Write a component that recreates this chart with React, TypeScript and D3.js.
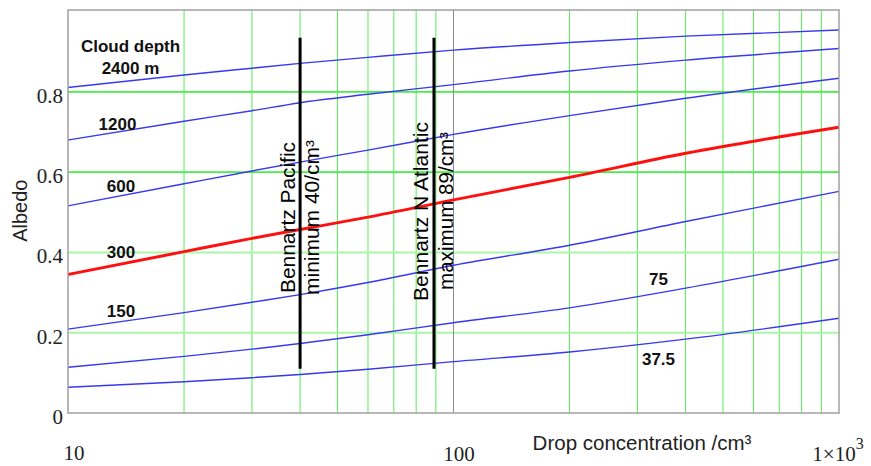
import React from "react"
import * as d3 from "d3"

// drop concentration samples (per cm3)
const conc = [10, 20, 30, 40, 60, 100, 200, 400, 1000]

// albedo per cloud depth
const depth2400 = [0.811, 0.842, 0.859, 0.871, 0.886, 0.904, 0.923, 0.939, 0.954]
const depth1200 = [0.68, 0.727, 0.753, 0.773, 0.794, 0.818, 0.852, 0.879, 0.908]
const depth600 = [0.516, 0.571, 0.603, 0.625, 0.655, 0.694, 0.741, 0.784, 0.834]
const depth300 = [0.345, 0.402, 0.435, 0.457, 0.488, 0.531, 0.587, 0.647, 0.712]
const depth150 = [0.209, 0.25, 0.276, 0.295, 0.325, 0.368, 0.418, 0.477, 0.552]
const depth75 = [0.114, 0.141, 0.159, 0.173, 0.195, 0.225, 0.262, 0.311, 0.383]
const depth37 = [0.064, 0.078, 0.088, 0.096, 0.109, 0.128, 0.152, 0.184, 0.236]

const blueSeries = [depth2400, depth1200, depth600, depth150, depth75, depth37]

const yTicks = [0, 0.2, 0.4, 0.6, 0.8]
const yTickLabels = ["0", "0.2", "0.4", "0.6", "0.8"]

// Bennartz markers
const pacificConc = 40
const atlanticConc = 89
const markerRange = [0.11, 0.935]

const sans = "'Liberation Sans', Arial, sans-serif"
const serif = "'Liberation Serif', 'Times New Roman', serif"

export default function App() {
  const x = d3.scaleLog().domain([10, 1000]).range([68, 839])
  const y = d3.scaleLinear().domain([0, 1.004]).range([413, 10])

  const line = d3
    .line<number>()
    .x((d, i) => x(conc[i]))
    .y((d) => y(d))
    .curve(d3.curveMonotoneX)

  const minor = x.ticks().filter((t) => t !== 10 && t !== 100 && t !== 1000)
  const [x0, x1] = x.range()
  const [yb, yt] = y.range()

  return (
    <svg width={871} height={466} style={{ position: "absolute", left: 0, top: 0 }}>
      <rect width={871} height={466} fill="#fff" />

      {/* grid */}
      {minor.map((t) => (
        <line key={t} x1={x(t)} x2={x(t)} y1={yt} y2={yb} stroke="#55ee55" strokeWidth={1} />
      ))}
      {yTicks.slice(1).map((t) => (
        <line
          key={t}
          x1={x0}
          x2={x1}
          y1={y(t)}
          y2={y(t)}
          stroke={t >= 0.6 ? "#44ee44" : "#aaf5aa"}
          strokeWidth={t >= 0.6 ? 1.6 : 2}
        />
      ))}
      <line x1={x(100)} x2={x(100)} y1={yt} y2={yb} stroke="#8a8a8a" strokeWidth={1} />

      {/* curves */}
      {blueSeries.map((s, i) => (
        <path key={i} d={line(s) || ""} fill="none" stroke="#3838f0" strokeWidth={1.4} />
      ))}
      <path d={line(depth300) || ""} fill="none" stroke="#ff1010" strokeWidth={3} />

      {/* frame */}
      <rect x={x0} y={yt} width={x1 - x0} height={yb - yt} fill="none" stroke="#a0a0a0" strokeWidth={1.5} />

      {/* Bennartz markers */}
      {[pacificConc, atlanticConc].map((c) => (
        <line key={c} x1={x(c)} x2={x(c)} y1={y(markerRange[0])} y2={y(markerRange[1])} stroke="#000" strokeWidth={3} />
      ))}
      <g fontFamily={sans} fontSize={19.5} fill="#000">
        <text transform="translate(295,293) rotate(-90)" textLength={151} lengthAdjust="spacingAndGlyphs">
          Bennartz Pacific
        </text>
        <text transform="translate(319,295) rotate(-90)" textLength={155} lengthAdjust="spacingAndGlyphs">
          minimum 40/cm³
        </text>
        <text transform="translate(428,301) rotate(-90)" textLength={179} lengthAdjust="spacingAndGlyphs">
          Bennartz N Atlantic
        </text>
        <text transform="translate(453,290) rotate(-90)" textLength={158} lengthAdjust="spacingAndGlyphs">
          maximum 89/cm³
        </text>
      </g>

      {/* curve labels */}
      <g fontFamily={sans} fontSize={17} fontWeight="bold" fill="#111" textAnchor="middle">
        <text x={130.5} y={51.7}>Cloud depth</text>
        <text x={130.5} y={74}>2400 m</text>
        <text x={117.5} y={130}>1200</text>
        <text x={121} y={191.7}>600</text>
        <text x={121} y={258.3}>300</text>
        <text x={121} y={316.7}>150</text>
        <text x={658.5} y={285}>75</text>
        <text x={658.5} y={365}>37.5</text>
      </g>

      {/* y axis */}
      <g fontFamily={serif} fontSize={21} fill="#222" textAnchor="end">
        {yTicks.map((t, i) => (
          <text key={t} x={63} y={y(t) + 11}>
            {yTickLabels[i]}
          </text>
        ))}
      </g>
      <text
        transform="translate(26.5,210.7) rotate(-90)"
        textAnchor="middle"
        fontFamily={sans}
        fontSize={20}
        fill="#222"
      >
        Albedo
      </text>

      {/* x axis */}
      <g fontFamily={serif} fontSize={21} fill="#222" textAnchor="middle">
        <text x={x(10) + 6} y={460}>10</text>
        <text x={x(100) + 5.5} y={461}>100</text>
        <text x={x(1000) - 1} y={461} textAnchor="middle">
          1×10<tspan dy={-12} fontSize={16}>3</tspan>
        </text>
      </g>
      <text x={642} y={450} textAnchor="middle" fontFamily={sans} fontSize={20.5} fill="#222">
        Drop concentration /cm³
      </text>
    </svg>
  )
}
